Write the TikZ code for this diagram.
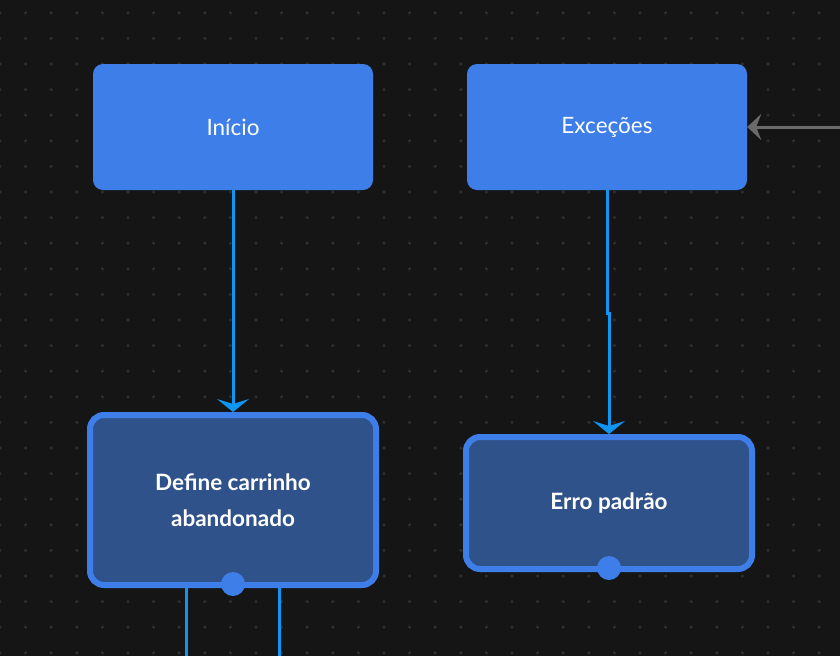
\documentclass[tikz,border=0pt]{standalone}
\usepackage{fontspec}
\setmainfont{Lato}
\usetikzlibrary{arrows.meta}
\definecolor{bg}{HTML}{151515}
\definecolor{dotc}{HTML}{2E2E2E}
\definecolor{topblue}{HTML}{3E7EE8}
\definecolor{darkblue}{HTML}{30528A}
\definecolor{linkblue}{HTML}{1096F2}
\definecolor{greyline}{HTML}{6A6A6A}
\tikzset{
  topbox/.style={fill=topblue, draw=none, rounded corners=10pt, minimum width=280pt, minimum height=126pt, text=white, font=\fontsize{22.5}{26}\selectfont},
  actbox/.style={fill=darkblue, draw=topblue, line width=6pt, rounded corners=14pt, minimum width=286pt, text=white, align=center, font=\bfseries\fontsize{22.5}{36}\selectfont},
  conn/.style={draw=linkblue, line width=3pt, -{Stealth[length=13pt, width=32pt, inset=5pt]}},
  plain/.style={draw=linkblue, line width=3pt},
  greyarrow/.style={draw=greyline, line width=3pt, -{Stealth[length=14pt, width=26pt, inset=5pt]}},
  handle/.style={circle, fill=topblue, inner sep=0pt, minimum size=24pt}
}
\begin{document}
\begin{tikzpicture}[x=1pt, y=-1pt]
\useasboundingbox (0,0) rectangle (840,656);
\fill[bg] (0,0) rectangle (840,656);
\foreach \i in {0,...,33} {
  \foreach \j in {0,...,25} {
    \fill[dotc] ({\i*25.6},{12.8+\j*25.6}) circle (1.8pt);
  }
}
\node[topbox] (ini) at (233,127) {Início};
\node[topbox] (exc) at (607,127) {Exceções};
\node[actbox, minimum height=170pt] (def) at (233,500) {Define carrinho\\abandonado};
\node[actbox, minimum height=132pt] (err) at (609,503) {Erro padrão};
\node[handle] (h1) at ([yshift=4pt]def.south) {};
\node[handle] (h2) at ([yshift=4pt]err.south) {};
\draw[conn] (ini.south) -- (def.north);
\coordinate (jog1) at (607,313);
\coordinate (jog2) at (609,313);
\draw[conn] (exc.south) -- (jog1) -- (jog2) -- (err.north);
\coordinate (src) at (840,127);
\draw[greyarrow] (src) -- (exc.east);
\coordinate (d1) at (186,656);
\coordinate (d2) at (279,656);
\draw[plain] (d1 |- def.south) -- (d1);
\draw[plain] (d2 |- def.south) -- (d2);
\end{tikzpicture}
\end{document}
